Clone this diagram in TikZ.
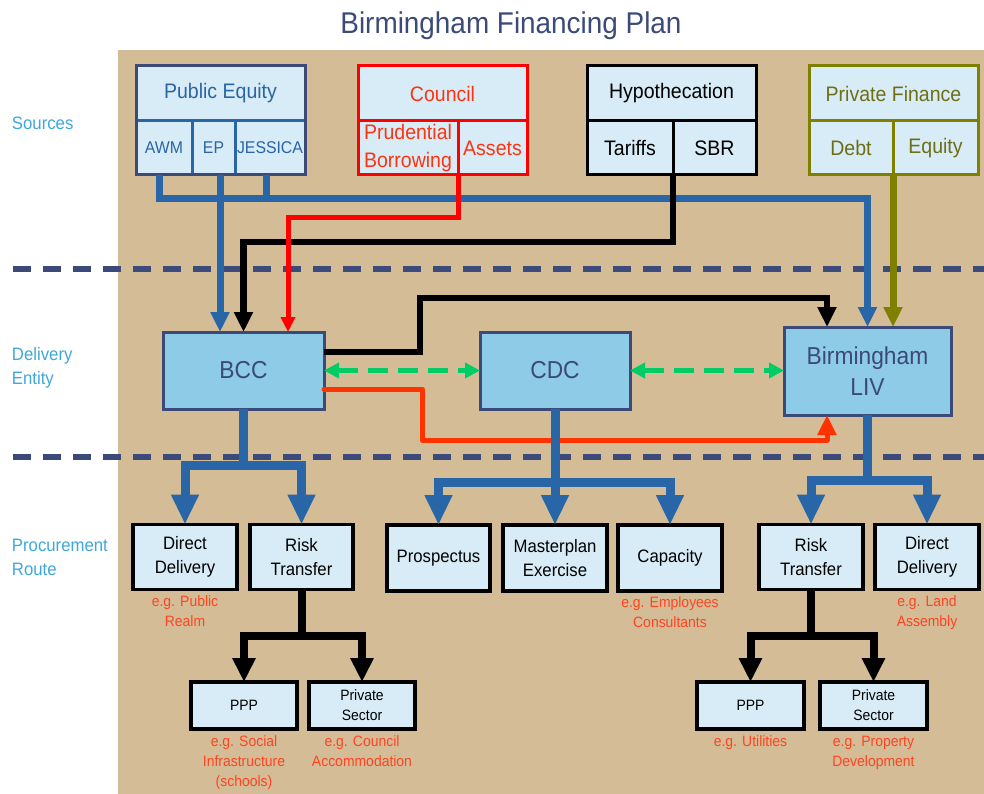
\documentclass[tikz,border=0pt]{standalone}
\usepackage{fontspec}
\setmainfont{Liberation Sans}[FakeStretch=0.93]
\usetikzlibrary{arrows.meta,positioning,calc}
\definecolor{bgtan}{RGB}{211,188,150}
\definecolor{darkblue}{RGB}{59,74,120}
\definecolor{bluecol}{RGB}{40,102,168}
\definecolor{petxt}{RGB}{42,100,165}
\definecolor{cellfill}{RGB}{215,236,246}
\definecolor{delivfill}{RGB}{141,203,231}
\definecolor{redcol}{RGB}{255,0,0}
\definecolor{redtxt}{RGB}{255,51,17}
\definecolor{notecol}{RGB}{255,68,34}
\definecolor{orangeline}{RGB}{255,51,0}
\definecolor{olivecol}{RGB}{128,128,0}
\definecolor{olivetxt}{RGB}{110,110,20}
\definecolor{greencol}{RGB}{0,204,102}
\definecolor{labelcol}{RGB}{63,168,218}
\tikzset{
 f30/.style={font=\fontsize{30}{36}\selectfont},
 f21/.style={font=\fontsize{21}{28}\selectfont},
 f17/.style={font=\fontsize{17}{20}\selectfont},
 f24/.style={font=\fontsize{24.5}{31}\selectfont},
 f18/.style={font=\fontsize{18}{24}\selectfont},
 f15/.style={font=\fontsize{15}{20}\selectfont},
 cell/.style={draw, line width=3pt, fill=cellfill, align=center},
 deliv/.style={draw=darkblue, line width=3pt, fill=delivfill, text=darkblue, align=center, f24},
 proc/.style={draw=black, line width=3.5pt, fill=cellfill, align=center},
 note/.style={text=notecol, align=center, f15, anchor=north},
 sidelabel/.style={text=labelcol, align=left, f18},
 sep/.style={draw=darkblue, line width=6pt, dash pattern=on 18pt off 12pt},
 blA/.style={draw=bluecol, line width=7pt},
 blB/.style={draw=bluecol, line width=9pt},
 bkA/.style={draw=black, line width=6.5pt},
 bkB/.style={draw=black, line width=8pt},
 rdA/.style={draw=redcol, line width=5pt},
 orA/.style={draw=orangeline, line width=5pt, line cap=round, line join=round},
 olA/.style={draw=olivecol, line width=7pt},
 grA/.style={draw=greencol, line width=5.5pt, dash pattern=on 20pt off 10pt},
 tipM/.style={-{Triangle[width=18pt,length=20pt]}},
 tipS/.style={-{Triangle[width=14pt,length=15pt]}},
 tipL/.style={-{Triangle[width=26pt,length=30pt]}},
 tipK/.style={-{Triangle[width=22pt,length=24pt]}},
 tipG/.style={{Triangle[width=15pt,length=15pt]}-{Triangle[width=15pt,length=15pt]}},
}
\begin{document}
\begin{tikzpicture}[x=1pt,y=-1pt, every node/.style={inner sep=0pt, outer sep=0pt}]
\useasboundingbox (0,0) rectangle (984,794);
\fill[white] (0,0) rectangle (984,794);
\fill[bgtan] (118,50) rectangle (984,794);

% title and side labels
\node[f30, text=darkblue, anchor=base] (title) at (511,34) {Birmingham Financing Plan};
\node[sidelabel, anchor=base west] (lsrc) at (12,130) {Sources};
\node[sidelabel, anchor=west] (ldel) at (12,367.5) {Delivery\\Entity};
\node[sidelabel, anchor=west] (lproc) at (12,557.5) {Procurement\\Route};

% separators
\coordinate (s1a) at (13,269); \coordinate (s1b) at (984,269);
\coordinate (s2a) at (13,457); \coordinate (s2b) at (984,457);
\draw[sep] (s1a) -- (s1b);
\draw[sep] (s2a) -- (s2b);

% sources
\node[cell, draw=darkblue, text=petxt, f21, minimum width=169pt, minimum height=55pt] (pe) at (220.5,93.5) {Public Equity};
\node[cell, draw=bluecol, text=petxt, f17, minimum width=56pt, minimum height=54pt] (awm) at (164,148) {AWM};
\node[cell, draw=bluecol, text=petxt, f17, minimum width=43pt, minimum height=54pt] (ep) at (213.5,148) {EP};
\node[cell, draw=bluecol, text=petxt, f17, minimum width=70pt, minimum height=54pt] (jes) at (270,148) {JESSICA};
\draw[darkblue, line width=3pt] (pe.north west) rectangle (jes.south east);

\node[cell, draw=redcol, text=redtxt, f21, minimum width=169pt, minimum height=55pt] (co) at (442.5,93.5) {Council};
\node[cell, draw=redcol, text=redtxt, f21, minimum width=100pt, minimum height=54pt] (pb) at (408,148) {Prudential\\Borrowing};
\node[cell, draw=redcol, text=redtxt, f21, minimum width=69pt, minimum height=54pt] (as) at (492.5,148) {Assets};

\node[cell, draw=black, text=black, f21, minimum width=169pt, minimum height=55pt] (hy) at (671.5,93.5) {Hypothecation};
\node[cell, draw=black, text=black, f21, minimum width=86pt, minimum height=54pt] (tar) at (630,148) {Tariffs};
\node[cell, draw=black, text=black, f21, minimum width=83pt, minimum height=54pt] (sbr) at (714.5,148) {SBR};

\node[cell, draw=olivecol, text=olivetxt, f21, minimum width=169pt, minimum height=55pt] (pf) at (893.5,93.5) {Private Finance};
\node[cell, draw=olivecol, text=olivetxt, f21, minimum width=84pt, minimum height=54pt] (debt) at (851,148) {Debt};
\node[cell, draw=olivecol, text=olivetxt, f21, minimum width=85pt, minimum height=54pt] (eq) at (935.5,148) {Equity};

% delivery entities
\node[deliv, minimum width=161pt, minimum height=77pt] (bcc) at (243.5,370.5) {BCC};
\node[deliv, minimum width=150pt, minimum height=77pt] (cdc) at (555,370.5) {CDC};
\node[deliv, minimum width=167pt, minimum height=88pt] (liv) at (867.5,371) {Birmingham\\LIV};

% procurement boxes
\node[proc, f18, minimum width=104pt, minimum height=65pt] (dd1) at (185,557) {Direct\\Delivery};
\node[proc, f18, minimum width=103pt, minimum height=65pt] (rt1) at (301.5,557) {Risk\\Transfer};
\node[proc, f18, minimum width=103pt, minimum height=66pt] (pros) at (438.5,558) {Prospectus};
\node[proc, f18, minimum width=104pt, minimum height=66pt] (mast) at (555,558) {Masterplan\\Exercise};
\node[proc, f18, minimum width=104pt, minimum height=66pt] (cap) at (670,558) {Capacity};
\node[proc, f18, minimum width=104pt, minimum height=65pt] (rt2) at (811,557) {Risk\\Transfer};
\node[proc, f18, minimum width=104pt, minimum height=65pt] (dd2) at (927,557) {Direct\\Delivery};

\node[proc, f15, minimum width=106pt, minimum height=47pt] (ppp1) at (244,705.5) {PPP};
\node[proc, f15, minimum width=106pt, minimum height=47pt] (ps1) at (362,705.5) {Private\\Sector};
\node[proc, f15, minimum width=107pt, minimum height=47pt] (ppp2) at (750.5,705.5) {PPP};
\node[proc, f15, minimum width=107pt, minimum height=47pt] (ps2) at (873.5,705.5) {Private\\Sector};

% notes
\node[note, below=6pt of dd1] (n1) {e.g. Public\\Realm};
\node[note, below=6pt of cap] (n2) {e.g. Employees\\Consultants};
\node[note, below=6pt of dd2] (n3) {e.g. Land\\Assembly};
\node[note, below=7pt of ppp1] (n4) {e.g. Social\\Infrastructure\\(schools)};
\node[note, below=7pt of ps1] (n5) {e.g. Council\\Accommodation};
\node[note, below=7pt of ppp2] (n6) {e.g. Utilities};
\node[note, below=7pt of ps2] (n7) {e.g. Property\\Development};

% anchor coordinates
\coordinate (busy) at (0,199);
\coordinate (ky) at (0,242);
\coordinate (ry) at (0,218);
\coordinate (bccA) at ([xshift=-23.5pt]bcc.north);
\coordinate (bccB) at (bcc.north);
\coordinate (bccC) at ([xshift=44.5pt]bcc.north);
\coordinate (livA) at ([xshift=-40.5pt]liv.north);
\coordinate (livC) at (debt.south east |- liv.north);
\coordinate (livD) at ([xshift=-40.5pt]liv.south);
\coordinate (k1) at (420,298);
\coordinate (o1) at (422,440);
\coordinate (bby) at (0,465);
\coordinate (cby) at (0,482);
\coordinate (lby) at (0,480);
\coordinate (kby) at (0,636);

% source connectors
\draw[blA, tipM] ([xshift=-5pt]awm.south) |- (busy -| liv.north) -- (liv.north);
\draw[blA] ([xshift=-4pt]jes.south) -- ([xshift=-4pt]jes.south |- busy);
\draw[blA, tipM] (bccA |- ep.south) -- (bccA);
\draw[bkA, tipM] (tar.south east) |- (ky -| bccB) -- (bccB);
\draw[rdA, tipS] (pb.south east) |- (ry -| bccC) -- (bccC);
\draw[olA, tipM] (debt.south east) -- (livC);

% delivery connectors
\draw[bkA, line width=6pt, tipM] ([yshift=18.5pt]bcc.east) -| (k1) -| (livA);
\draw[orA, tipM] ([yshift=-18.5pt]bcc.east) -| (o1) -| (livD);
\draw[grA, tipG] (bcc.east) -- (cdc.west);
\draw[grA, tipG] (cdc.east) -- (cdc.east -| liv.west);

% procurement connectors
\draw[blB, tipL] (bcc.south) |- (bby -| dd1.north) -- (dd1.north);
\draw[blB, tipL] (bcc.south) |- (bby -| rt1.north) -- (rt1.north);
\draw[blB, tipL] (cdc.south) |- (cby -| pros.north) -- (pros.north);
\draw[blB, tipL] (cdc.south) -- (mast.north);
\draw[blB, tipL] (cdc.south) |- (cby -| cap.north) -- (cap.north);
\draw[blB, tipL] (liv.south) |- (lby -| rt2.north) -- (rt2.north);
\draw[blB, tipL] (liv.south) |- (lby -| dd2.north) -- (dd2.north);

\draw[bkB, tipK] (rt1.south) |- (kby -| ppp1.north) -- (ppp1.north);
\draw[bkB, tipK] (rt1.south) |- (kby -| ps1.north) -- (ps1.north);
\draw[bkB, tipK] (rt2.south) |- (kby -| ppp2.north) -- (ppp2.north);
\draw[bkB, tipK] (rt2.south) |- (kby -| ps2.north) -- (ps2.north);
\end{tikzpicture}
\end{document}
